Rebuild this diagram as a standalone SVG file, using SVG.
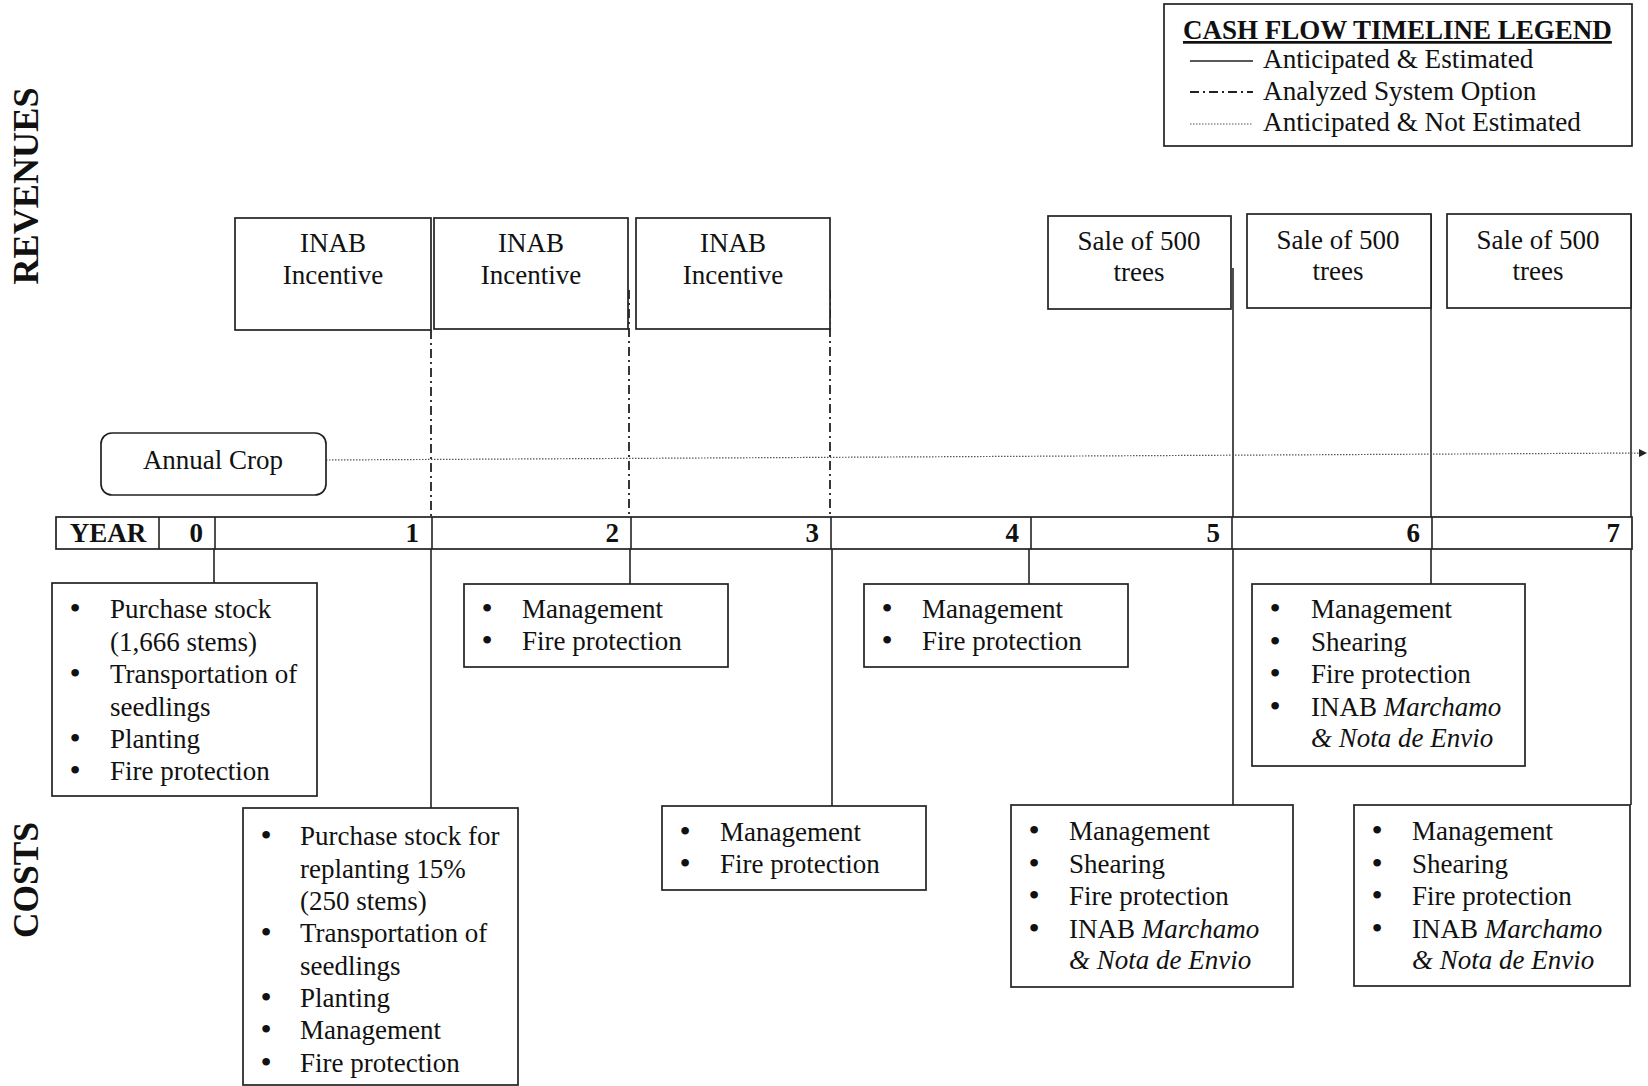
<svg xmlns="http://www.w3.org/2000/svg" width="1648" height="1086" viewBox="0 0 1648 1086">
  <defs>
    <style>
      text { font-family: "Liberation Serif", "Times New Roman", serif; fill: #111; }
      .t { font-size: 27px; }
      .c { font-size: 27px; text-anchor: middle; }
      .b { font-size: 27px; font-weight: bold; }
      .bl { font-size: 32px; text-anchor: middle; }
      .side { font-size: 35px; font-weight: bold; text-anchor: middle; }
      .box { fill: #fff; stroke: #222; stroke-width: 1.7; }
      .solid { stroke: #222; stroke-width: 1.6; fill: none; }
      .dashdot { stroke: #222; stroke-width: 1.8; fill: none; stroke-dasharray: 9 4 2 4; }
      .dotted { stroke: #555; stroke-width: 1.2; fill: none; stroke-dasharray: 1.5 1.5; }
      .it { font-style: italic; }
    </style>
    <marker id="arrow" markerWidth="8" markerHeight="8" refX="7" refY="4" orient="auto" markerUnits="userSpaceOnUse">
      <path d="M0,0 L8,4 L0,8 Z" fill="#222"/>
    </marker>
  </defs>

  <rect width="1648" height="1086" fill="#fff"/>

  <!-- Section labels -->
  <text class="side" transform="translate(38,186) rotate(-90)" textLength="197" lengthAdjust="spacingAndGlyphs">REVENUES</text>
  <text class="side" transform="translate(38,880) rotate(-90)" textLength="116" lengthAdjust="spacingAndGlyphs">COSTS</text>

  <!-- Legend -->
  <g id="legend">
    <rect class="box" x="1164" y="4" width="468" height="142"/>
    <text class="b" x="1183" y="39" text-decoration="underline">CASH FLOW TIMELINE LEGEND</text>
    <line class="solid" x1="1190" y1="61" x2="1253" y2="61" stroke-width="1.2"/>
    <line class="dashdot" x1="1190" y1="92" x2="1253" y2="92" stroke-width="1.4"/>
    <line class="dotted" x1="1190" y1="124" x2="1253" y2="124"/>
    <text x="1263" y="68" font-size="27.2">Anticipated &amp; Estimated</text>
    <text x="1263" y="100" font-size="27.2">Analyzed System Option</text>
    <text x="1263" y="131" font-size="27.2">Anticipated &amp; Not Estimated</text>
  </g>

  <!-- Connectors -->
  <g id="connectors">
    <!-- incentive payments (analyzed option) -->
    <line class="dashdot" x1="431" y1="330" x2="431" y2="535"/>
    <line class="dashdot" x1="629" y1="290" x2="629" y2="535"/>
    <line class="dashdot" x1="830" y1="290" x2="830" y2="535"/>
    <!-- tree sales -->
    <line class="solid" x1="1233" y1="268" x2="1233" y2="805"/>
    <line class="solid" x1="1431" y1="214" x2="1431" y2="584"/>
    <line class="solid" x1="1631" y1="214" x2="1631" y2="805"/>
    <!-- annual crop -->
    <path class="dotted" d="M326,460 L1646,453" marker-end="url(#arrow)"/>
    <!-- yearly costs -->
    <line class="solid" x1="214" y1="535" x2="214" y2="584"/>
    <line class="solid" x1="431" y1="535" x2="431" y2="808"/>
    <line class="solid" x1="630" y1="535" x2="630" y2="584"/>
    <line class="solid" x1="832" y1="535" x2="832" y2="806"/>
    <line class="solid" x1="1029" y1="535" x2="1029" y2="584"/>
  </g>

  <!-- Timeline bar -->
  <g id="timeline">
    <rect class="box" x="56" y="517" width="1576" height="32"/>
    <g class="solid">
      <line x1="159" y1="517" x2="159" y2="549"/>
      <line x1="215" y1="517" x2="215" y2="549"/>
      <line x1="432" y1="517" x2="432" y2="549"/>
      <line x1="631" y1="517" x2="631" y2="549"/>
      <line x1="831" y1="517" x2="831" y2="549"/>
      <line x1="1031" y1="517" x2="1031" y2="549"/>
      <line x1="1232" y1="517" x2="1232" y2="549"/>
      <line x1="1432" y1="517" x2="1432" y2="549"/>
    </g>
    <text class="b c" x="108" y="542">YEAR</text>
    <g class="b" text-anchor="end">
      <text x="203" y="542">0</text>
      <text x="419" y="542">1</text>
      <text x="619" y="542">2</text>
      <text x="819" y="542">3</text>
      <text x="1019" y="542">4</text>
      <text x="1220" y="542">5</text>
      <text x="1420" y="542">6</text>
      <text x="1620" y="542">7</text>
    </g>
  </g>

  <!-- Revenue nodes -->
  <g id="inab-1">
    <rect class="box" x="235" y="218" width="196" height="112"/>
    <text class="c" x="333" y="252">INAB</text>
    <text class="c" x="333" y="284">Incentive</text>
  </g>
  <g id="inab-2">
    <rect class="box" x="434" y="218" width="194" height="111"/>
    <text class="c" x="531" y="252">INAB</text>
    <text class="c" x="531" y="284">Incentive</text>
  </g>
  <g id="inab-3">
    <rect class="box" x="636" y="218" width="194" height="111"/>
    <text class="c" x="733" y="252">INAB</text>
    <text class="c" x="733" y="284">Incentive</text>
  </g>
  <g id="sale-5">
    <rect class="box" x="1048" y="216" width="183" height="93"/>
    <text class="c" x="1139" y="250">Sale of 500</text>
    <text class="c" x="1139" y="281">trees</text>
  </g>
  <g id="sale-6">
    <rect class="box" x="1247" y="214" width="184" height="94"/>
    <text class="c" x="1338" y="249">Sale of 500</text>
    <text class="c" x="1338" y="280">trees</text>
  </g>
  <g id="sale-7">
    <rect class="box" x="1447" y="214" width="184" height="94"/>
    <text class="c" x="1538" y="249">Sale of 500</text>
    <text class="c" x="1538" y="280">trees</text>
  </g>

  <g id="annual-crop">
    <rect class="box" x="101" y="433" width="225" height="62" rx="11"/>
    <text class="c" x="213" y="469">Annual Crop</text>
  </g>

  <!-- Cost nodes -->
  <g id="cost-0">
    <rect class="box" x="52" y="583" width="265" height="213"/>
    <g class="bl">
      <text x="75" y="619">•</text>
      <text x="75" y="684">•</text>
      <text x="75" y="749">•</text>
      <text x="75" y="781">•</text>
    </g>
    <g class="t">
      <text x="110" y="618">Purchase stock</text>
      <text x="110" y="650.5">(1,666 stems)</text>
      <text x="110" y="683">Transportation of</text>
      <text x="110" y="715.5">seedlings</text>
      <text x="110" y="748">Planting</text>
      <text x="110" y="780">Fire protection</text>
    </g>
  </g>
  <g id="cost-1">
    <rect class="box" x="243" y="808" width="275" height="277"/>
    <g class="bl">
      <text x="266" y="846">•</text>
      <text x="266" y="943">•</text>
      <text x="266" y="1008">•</text>
      <text x="266" y="1040">•</text>
      <text x="266" y="1073">•</text>
    </g>
    <g class="t">
      <text x="300" y="845">Purchase stock for</text>
      <text x="300" y="877.5">replanting 15%</text>
      <text x="300" y="910">(250 stems)</text>
      <text x="300" y="942">Transportation of</text>
      <text x="300" y="974.5">seedlings</text>
      <text x="300" y="1007">Planting</text>
      <text x="300" y="1039">Management</text>
      <text x="300" y="1072">Fire protection</text>
    </g>
  </g>
  <g id="cost-2">
    <rect class="box" x="464" y="584" width="264" height="83"/>
    <g class="bl">
      <text x="487" y="619">•</text>
      <text x="487" y="651">•</text>
    </g>
    <g class="t">
      <text x="522" y="618">Management</text>
      <text x="522" y="650">Fire protection</text>
    </g>
  </g>
  <g id="cost-3">
    <rect class="box" x="662" y="806" width="264" height="84"/>
    <g class="bl">
      <text x="685" y="842">•</text>
      <text x="685" y="874">•</text>
    </g>
    <g class="t">
      <text x="720" y="841">Management</text>
      <text x="720" y="873">Fire protection</text>
    </g>
  </g>
  <g id="cost-4">
    <rect class="box" x="864" y="584" width="264" height="83"/>
    <g class="bl">
      <text x="887" y="619">•</text>
      <text x="887" y="651">•</text>
    </g>
    <g class="t">
      <text x="922" y="618">Management</text>
      <text x="922" y="650">Fire protection</text>
    </g>
  </g>
  <g id="cost-5">
    <rect class="box" x="1011" y="805" width="282" height="182"/>
    <g class="bl">
      <text x="1034" y="841">•</text>
      <text x="1034" y="874">•</text>
      <text x="1034" y="906">•</text>
      <text x="1034" y="939">•</text>
    </g>
    <g class="t">
      <text x="1069" y="840">Management</text>
      <text x="1069" y="873">Shearing</text>
      <text x="1069" y="905">Fire protection</text>
      <text x="1069" y="938">INAB <tspan class="it">Marchamo</tspan></text>
      <text x="1069" y="969" class="it">&amp; Nota de Envio</text>
    </g>
  </g>
  <g id="cost-6">
    <rect class="box" x="1252" y="584" width="273" height="182"/>
    <g class="bl">
      <text x="1275" y="619">•</text>
      <text x="1275" y="652">•</text>
      <text x="1275" y="684">•</text>
      <text x="1275" y="717">•</text>
    </g>
    <g class="t">
      <text x="1311" y="618">Management</text>
      <text x="1311" y="651">Shearing</text>
      <text x="1311" y="683">Fire protection</text>
      <text x="1311" y="716">INAB <tspan class="it">Marchamo</tspan></text>
      <text x="1311" y="747" class="it">&amp; Nota de Envio</text>
    </g>
  </g>
  <g id="cost-7">
    <rect class="box" x="1354" y="805" width="276" height="181"/>
    <g class="bl">
      <text x="1377" y="841">•</text>
      <text x="1377" y="874">•</text>
      <text x="1377" y="906">•</text>
      <text x="1377" y="939">•</text>
    </g>
    <g class="t">
      <text x="1412" y="840">Management</text>
      <text x="1412" y="873">Shearing</text>
      <text x="1412" y="905">Fire protection</text>
      <text x="1412" y="938">INAB <tspan class="it">Marchamo</tspan></text>
      <text x="1412" y="969" class="it">&amp; Nota de Envio</text>
    </g>
  </g>
</svg>
